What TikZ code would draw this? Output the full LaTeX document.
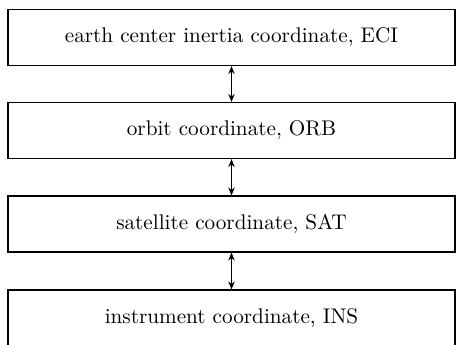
\documentclass[tikz,border=0pt]{standalone}
\usepackage{tikz}
\usetikzlibrary{arrows.meta,positioning}

\begin{document}
\begin{tikzpicture}[
    x=0.5pt, y=-0.5pt,
    marco/.style={rectangle, draw=black, line width=0.75pt, fill=white,
                  minimum width=223.5pt, minimum height=27.8pt, inner sep=0pt,
                  align=center, font=\fontsize{10.6}{12.5}\selectfont},
    enlace/.style={{Stealth[length=4pt, width=3.2pt]}-{Stealth[length=4pt, width=3.2pt]}, line width=0.6pt}
  ]
  \useasboundingbox (0,0) rectangle (456,344);

  \node[marco] (eci) at (231.5,37.5)  {earth center inertia coordinate, ECI};
  \node[marco] (orb) at (231.5,130.5) {orbit coordinate, ORB};
  \node[marco] (sat) at (231.5,224)   {satellite coordinate, SAT};
  \node[marco] (ins) at (231.5,318)   {instrument coordinate, INS};

  \draw[enlace] (eci.south) -- (orb.north);
  \draw[enlace] (orb.south) -- (sat.north);
  \draw[enlace] (sat.south) -- (ins.north);
\end{tikzpicture}
\end{document}
